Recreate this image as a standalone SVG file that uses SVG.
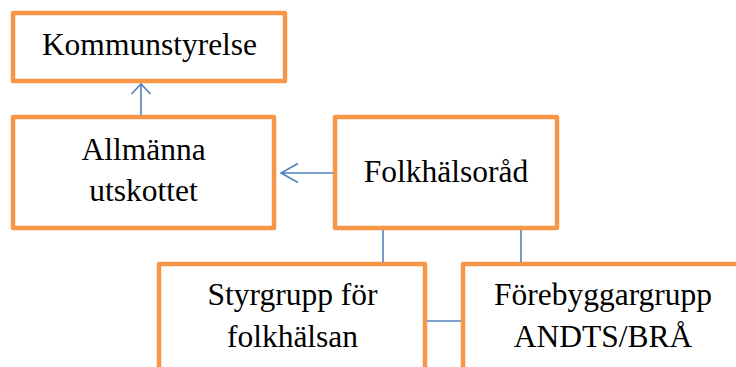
<svg xmlns="http://www.w3.org/2000/svg" width="736" height="367" viewBox="0 0 736 367">
<defs>
<style>
.box{fill:#fff;stroke:#F79646;stroke-width:4.5;stroke-linejoin:round}
.t{font-family:'Liberation Serif',Tinos,'Times New Roman',Times,'DejaVu Serif',serif;font-size:31.5px;fill:#000;text-anchor:middle}
.c{fill:none;stroke:#4F81BD;stroke-width:1.6}
</style>
</defs>
<rect width="736" height="367" fill="#fff"/>
<g id="n-kommunstyrelse">
<rect class="box" x="13" y="13" width="272" height="68"/>
<text class="t" x="149.5" y="55">Kommunstyrelse</text>
</g>
<g id="n-allmanna">
<rect class="box" x="13" y="117" width="261" height="111"/>
<text class="t" x="143.5" y="160">Allmänna</text>
<text class="t" x="143.5" y="201">utskottet</text>
</g>
<g id="n-folkhalsorad">
<rect class="box" x="335" y="117" width="222" height="111"/>
<text class="t" x="446" y="182">Folkhälsoråd</text>
</g>
<g id="n-styrgrupp">
<rect class="box" x="159" y="264" width="266" height="130"/>
<text class="t" x="292.5" y="305">Styrgrupp för</text>
<text class="t" x="292.5" y="347">folkhälsan</text>
</g>
<g id="n-forebyggar">
<rect class="box" x="463" y="264" width="282" height="130"/>
<text class="t" x="603" y="305">Förebyggargrupp</text>
<text class="t" x="603" y="347">ANDTS/BRÅ</text>
</g>
<g id="connectors">
<path class="c" d="M141 115 V84 M131.5 94 L141 84 L150.5 94"/>
<path class="c" d="M333 173 H281 M298 163.5 L281 173 L298 182.5"/>
<path class="c" d="M383 230 V262"/>
<path class="c" d="M521 230 V262"/>
<path class="c" d="M427 321 H461"/>
</g>
</svg>
